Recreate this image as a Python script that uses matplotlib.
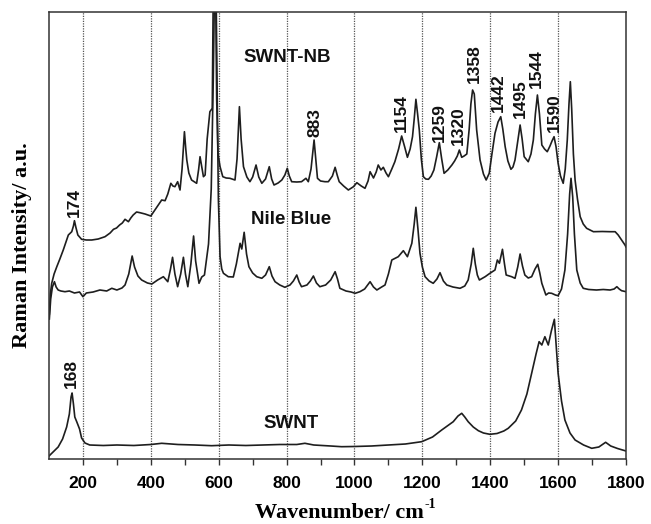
import matplotlib
matplotlib.use("Agg")
import matplotlib.pyplot as plt

# ---------------- data (y in arbitrary offset units) ----------------
swnt_x = [100, 115, 127, 140, 152, 160, 165, 168, 172, 176, 182, 190, 196, 206, 220, 260, 300, 350,
          400, 432, 480, 530, 579, 630, 680, 730, 780, 830, 854, 880, 930, 962, 1000, 1050, 1100,
          1150, 1198, 1230, 1257, 1291, 1305, 1316, 1325, 1335, 1350, 1365, 1380, 1399, 1420, 1440,
          1453, 1475, 1492, 1508, 1522, 1535, 1544, 1552, 1561, 1571, 1580, 1589, 1595, 1600, 1610,
          1620, 1635, 1650, 1675, 1699, 1720, 1740, 1755, 1775, 1797, 1800]
swnt_y = [3, 8, 12, 20, 32, 45, 62, 66, 55, 42, 37, 30, 21, 16, 14, 13.5, 14, 13.5,
          14.5, 15.7, 14.5, 14, 13.3, 14, 13.5, 14, 14.5, 14.5, 15.7, 14, 13, 12.3, 12.5, 13, 14,
          15, 17.3, 22, 29, 37.3, 43, 45.7, 42, 37.3, 32, 28.3, 26, 24.7, 25.5, 28,
          30.7, 38, 49, 65, 85.7, 105, 117.3, 114, 122.3, 114, 128, 139.7, 110, 85.7, 58,
          39, 26, 19, 14, 10.7, 12, 16.7, 13, 10.5, 8.3, 8]

nb_x = [101, 105, 110, 116, 121, 127, 135, 147, 160, 175, 190, 200, 210, 230, 250, 270, 285, 300,
        315, 324, 335, 345, 352, 362, 373, 390, 403, 420, 437, 450, 458, 464, 471, 479, 488, 496,
        502, 509, 518, 526, 532, 542, 550, 558, 570, 578, 584, 588, 592, 595, 599, 604, 609, 614,
        628, 643, 652, 663, 668, 675, 682, 689, 700, 712, 727, 738, 749, 757, 766, 780, 795, 810,
        820, 830, 837, 844, 860, 870, 879, 888, 898, 915, 930, 943, 950, 957, 975, 990, 1002, 1016,
        1030, 1046, 1056, 1066, 1080, 1090, 1100, 1110, 1129, 1144, 1156, 1169, 1176, 1181, 1187,
        1193, 1200, 1208, 1220, 1232, 1243, 1252, 1262, 1272, 1290, 1311, 1325, 1335, 1344, 1350,
        1356, 1362, 1368, 1385, 1399, 1414, 1421, 1427, 1436, 1442, 1447, 1463, 1473, 1481, 1488,
        1495, 1502, 1512, 1522, 1532, 1540, 1546, 1552, 1564, 1572, 1581, 1592, 1600, 1610, 1620,
        1628, 1634, 1638, 1643, 1648, 1655, 1665, 1674, 1690, 1713, 1733, 1753, 1765, 1773, 1780,
        1787, 1800]
nb_y = [140, 160, 172, 177.3, 172, 169, 168, 167.3, 168, 166, 167, 162.3, 166, 167, 169, 168, 170.7, 169,
        171, 174, 185, 203, 192, 183, 179, 176, 175, 179, 182.3, 177.3, 190, 201.7, 185, 172.3, 185, 201.7,
        185, 172.3, 195, 223, 198, 175.7, 182, 184, 215, 270, 380, 480, 480, 380, 260, 202.3, 190, 185.7,
        182.3, 182, 195, 215.7, 210, 226.7, 205, 192.3, 186, 182.3, 180.7, 184, 192.3, 183, 177.3, 174, 171.7, 174,
        178, 184, 177, 172.3, 174, 178, 183, 176, 172.3, 174, 179, 187.3, 180, 170.7, 168, 167, 165.7, 167.3,
        170, 177.3, 172, 169, 172, 174, 185, 199, 202.3, 208.3, 202.3, 215.7, 235, 251.7, 230,
        205.7, 192, 182.3, 178, 175.7, 180, 186.3, 178, 174, 172, 170.7, 173, 179, 195, 210.7,
        195, 184, 179, 182.3, 185.7, 189, 199, 195.7, 209.7, 195, 184, 182.3, 180.7, 192, 205,
        193, 184, 181, 182.3, 190, 194.7, 186, 175.7, 164, 166, 165.7, 164, 163.3, 170, 189,
        225, 265, 280.7, 262, 225, 189, 176, 170.7, 169.5, 169, 169.5, 169, 170, 172.3, 170,
        168.3, 167.3]

snb_x = [101, 104, 108, 115, 123, 132, 142, 150, 157, 167, 172, 175, 179, 185, 196, 210, 226, 245,
         265, 280, 290, 299, 308, 316, 324, 334, 341, 348, 358, 368, 383, 392, 400, 412, 422, 432,
         442, 450, 459, 465, 471, 479, 486, 492, 499, 503, 506, 512, 520, 535, 541, 545, 550, 555,
         560, 566, 574, 581, 584, 588, 591, 594, 598, 604, 612, 622, 633, 648, 654, 661, 666, 673,
         683, 692, 700, 710, 718, 727, 738, 749, 756, 763, 775, 786, 795, 802, 808, 815, 830, 844,
         857, 864, 872, 881, 886, 891, 900, 913, 923, 935, 943, 949, 955, 968, 982, 997, 1007, 1020,
         1031, 1040, 1046, 1056, 1064, 1070, 1078, 1085, 1093, 1100, 1110, 1119, 1130, 1139, 1148,
         1156, 1164, 1171, 1176, 1181, 1186, 1191, 1197, 1203, 1210, 1218, 1226, 1234, 1242, 1250,
         1257, 1264, 1275, 1287, 1295, 1303, 1309, 1316, 1323, 1331, 1338, 1343, 1348, 1353, 1360,
         1370, 1380, 1388, 1397, 1405, 1414, 1423, 1431, 1437, 1444, 1452, 1461, 1467, 1473, 1480,
         1488, 1494, 1500, 1512, 1520, 1527, 1533, 1539, 1545, 1552, 1560, 1568, 1576, 1582, 1588,
         1594, 1600, 1607, 1615, 1621, 1627, 1632, 1636, 1640, 1645, 1650, 1657, 1665, 1674, 1684,
         1704, 1730, 1753, 1768, 1777, 1787, 1797, 1800]
snb_y = [145, 165, 175.7, 185, 192.3, 200, 209, 217, 224, 227.3, 233, 238.3, 232, 224, 219.7, 219, 219, 220,
         222.3, 226, 229.7, 231, 234, 236, 239.7, 237.3, 241, 244, 247, 246.3, 245, 244, 243, 249, 254, 259,
         258.3, 265, 275.7, 273, 272.3, 277.3, 269, 290, 327.3, 310, 299, 286, 279, 275.7, 290, 302.3, 292, 282.3,
         284, 320, 347.3, 350.7, 470, 480, 470, 360, 305, 292.3, 282.3, 281, 280.7, 279, 300, 352.3, 320, 292.3,
         282, 277.3, 282, 294, 282, 275.7, 280, 292.3, 280, 274, 276, 279, 284, 290.7, 283, 277.3, 277, 277.3,
         280.7, 277.3, 290, 319, 300, 280.7, 278, 277.3, 277.3, 283, 291.7, 284, 277.3, 273, 269, 272.3, 276.3, 273,
         270.7, 278, 287.3, 281, 287, 294, 289, 291.7, 286, 282.3, 290, 297.3, 310, 323, 312,
         301.7, 310, 322.3, 340, 359.7, 345, 329, 300, 282.3, 280, 279.7, 283, 289, 302, 316.3,
         300, 285.7, 289, 294, 298, 303, 309, 301.7, 303, 305, 330, 355, 369, 365, 329,
         299, 285, 279, 285.7, 305, 325.7, 337, 342.3, 330, 312.3, 298, 289.7, 292, 299, 315,
         334, 320, 302.3, 297.3, 305, 319, 345, 364, 345, 314, 310, 307.3, 313, 318, 322.3,
         312, 295.7, 283, 275.7, 290, 319, 355, 377.3, 350, 305, 279, 260, 242.3, 235, 230.7,
         227.3, 227.5, 227.3, 227.3, 224, 219, 214, 212]

peak_labels = ["174", "168", "883", "1154", "1259", "1320", "1358", "1442", "1495", "1544", "1590"]
peak_label_x = [174, 167, 884, 1137, 1250, 1306, 1354, 1424, 1488, 1536, 1588]
peak_label_y = [242, 71, 322, 327, 317, 314, 376, 347, 341, 371, 327]

series_names = ["SWNT-NB", "Nile Blue", "SWNT"]
series_name_x = [801, 812, 814]
series_name_y = [402, 239, 35]

xticks = [200, 400, 600, 800, 1000, 1200, 1400, 1600, 1800]
grid_x = [200, 400, 600, 800, 1000, 1200, 1400, 1600]

# ---------------- figure ----------------
sans = ["Liberation Sans", "DejaVu Sans"]
serif = ["Liberation Serif", "DejaVu Serif"]

fig = plt.figure(figsize=(6.51, 5.24), dpi=100)
ax = fig.add_axes([49 / 651, 1 - 459 / 524, (626 - 49) / 651, (459 - 12) / 524])

for gx in grid_x:
    ax.axvline(gx, color="#555555", lw=0.9, ls=(0, (1, 1)), zorder=1)

lc = "#1e1e1e"
ax.plot(swnt_x, swnt_y, color=lc, lw=1.2, zorder=3)
ax.plot(nb_x, nb_y, color=lc, lw=1.2, zorder=3)
ax.plot(snb_x, snb_y, color=lc, lw=1.2, zorder=3)

ax.set_xlim(100, 1800)
ax.set_ylim(0, 447)

ax.set_xticks(xticks)
ax.set_xticks(range(300, 1800, 200), minor=True)
ax.set_xticklabels([str(t) for t in xticks])
ax.tick_params(axis="x", which="both", direction="out", length=4, width=1.0, color="#333333", pad=8)
ax.tick_params(axis="x", which="major", labelsize=12.5)
for lab in ax.get_xticklabels():
    lab.set_fontfamily(sans)
    lab.set_fontweight("bold")
ax.set_yticks([])
for s in ax.spines.values():
    s.set_color("#333333")
    s.set_linewidth(1.1)
    s.set_zorder(5)

for t, x, y in zip(peak_labels, peak_label_x, peak_label_y):
    ax.text(x, y, t, rotation=90, ha="center", va="bottom", fontsize=12.5,
            fontweight="bold", family=sans, color="#111111", zorder=4)

for t, x, y in zip(series_names, series_name_x, series_name_y):
    ax.text(x, y, t, ha="center", va="center", fontsize=13.5, fontweight="bold",
            family=sans, color="#111111", zorder=4)

# x label with a small superscript
main = fig.text(255 / 651, 1 - 513 / 524, "Wavenumber/ cm", ha="left", va="center",
                fontsize=16, fontweight="bold", family=serif)
fig.canvas.draw()
bb = main.get_window_extent(renderer=fig.canvas.get_renderer())
fig.text((bb.x1 + 1) / 651, 1 - 505 / 524, "-1", ha="left", va="center",
         fontsize=10, fontweight="bold", family=serif)

fig.text(22 / 651, 1 - 245 / 524, "Raman Intensity/ a.u.", ha="center", va="center", rotation=90,
         fontsize=16, fontweight="bold", family=serif)

fig.savefig("out.png", dpi=100)
